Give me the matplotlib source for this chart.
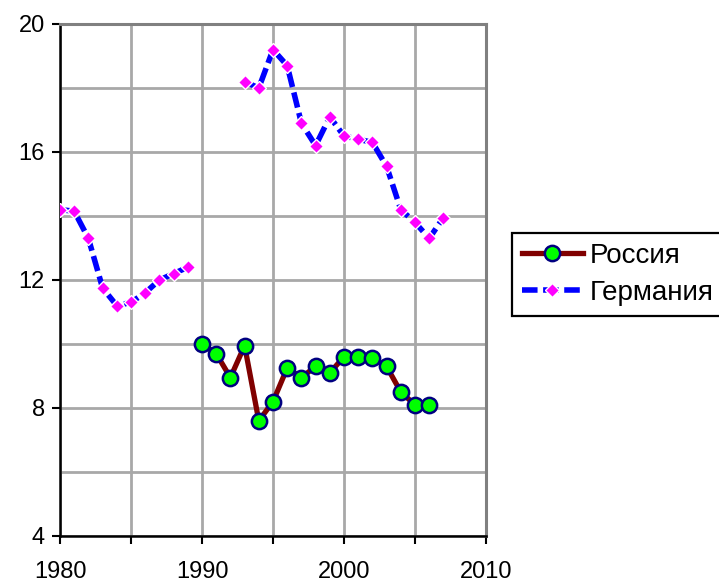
import numpy as np
import matplotlib.pyplot as plt

plt.rcParams['font.family'] = ['Liberation Sans', 'DejaVu Sans']

# Data
russia_years = [1990, 1991, 1992, 1993, 1994, 1995, 1996, 1997, 1998, 1999,
                2000, 2001, 2002, 2003, 2004, 2005, 2006]
russia_vals = [10.0, 9.7, 8.95, 9.95, 7.6, 8.2, 9.25, 8.95, 9.3, 9.1,
               9.6, 9.6, 9.55, 9.3, 8.5, 8.1, 8.1]

germany_years = list(range(1980, 2008))
germany_vals = [14.2, 14.15, 13.3, 11.75, 11.2, 11.3, 11.6, 12.0, 12.2, 12.4,
                np.nan, np.nan, np.nan,
                18.2, 18.0, 19.2, 18.7, 16.9, 16.2, 17.1,
                16.5, 16.4, 16.3, 15.55, 14.2, 13.8, 13.3, 13.95]

fig = plt.figure(figsize=(7.19, 5.83), dpi=100)
ax = fig.add_axes([60 / 719, 47 / 583, 426 / 719, 512 / 583])

ax.plot(russia_years, russia_vals, color='#800000', linewidth=3.8,
        marker='o', markersize=11, markerfacecolor='#00ff00',
        markeredgecolor='#000080', markeredgewidth=1.8,
        label='Россия', zorder=3)
ax.plot(germany_years, germany_vals, color='#0000ff', linewidth=4,
        linestyle=(0, (2.8, 1.0)),
        marker='D', markersize=7, markerfacecolor='#ff00ff',
        markeredgecolor='white', markeredgewidth=1,
        label='Германия', zorder=3)

ax.set_xlim(1980, 2010)
ax.set_ylim(4, 20)
ax.set_xticks(range(1980, 2011, 5))
ax.set_xticklabels(['1980', '', '1990', '', '2000', '', '2010'])
ax.set_yticks([4, 8, 12, 16, 20])
ax.set_yticks(range(4, 21, 2), minor=True)
ax.tick_params(axis='y', which='minor', length=0)
ax.tick_params(axis='both', which='major', direction='out', length=6,
               width=1.5, labelsize=17, pad=5)
ax.tick_params(axis='x', pad=12)

ax.grid(True, which='both', color='#a8a8a8', linewidth=2)
ax.set_axisbelow(True)

for s in ['left', 'bottom']:
    ax.spines[s].set_linewidth(1.8)
    ax.spines[s].set_color('black')
for s in ['top', 'right']:
    ax.spines[s].set_linewidth(2.2)
    ax.spines[s].set_color('#808080')

leg = fig.legend(loc='upper left', bbox_to_anchor=(512 / 719, 1 - 233 / 583),
                 fontsize=20, frameon=True, fancybox=False, framealpha=1,
                 edgecolor='black', handlelength=2.2, handletextpad=0.25,
                 borderpad=0.35, labelspacing=0.4, borderaxespad=0)
leg.get_frame().set_linewidth(1.6)

fig.savefig('out.png', dpi=100)
